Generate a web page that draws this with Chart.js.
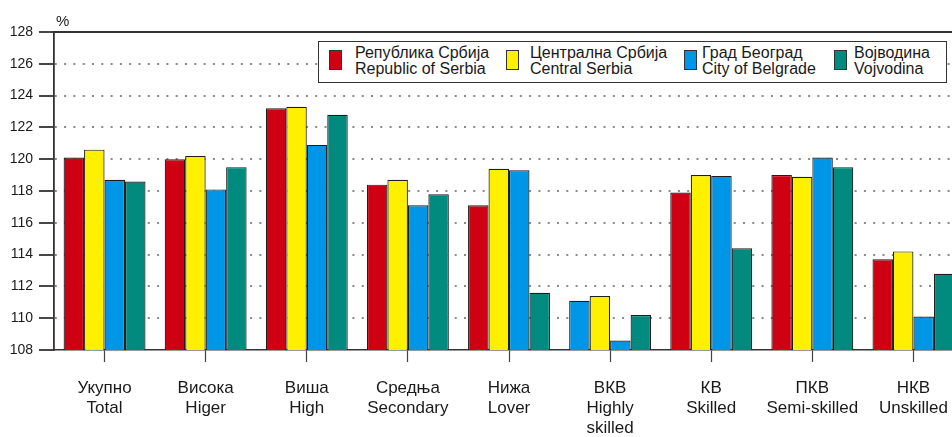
<!DOCTYPE html>
<html>
<head>
<meta charset="utf-8">
<script src="https://cdn.jsdelivr.net/npm/chart.js@4"></script>
<style>
    body { margin: 0; background: #fff; }
    #wrap { position: relative; width: 952px; height: 437px; overflow: hidden; font-family: "Liberation Sans", Arial, sans-serif; color: #1a1a1a; }
    #chart { position: absolute; left: 0; top: 0; }
    #unit { position: absolute; left: 56px; top: 12px; font-size: 15px; }
    #legend { position: absolute; left: 318px; top: 41px; width: 627px; height: 40px; border: 1.5px solid #333; background: #fff; }
    .item { position: absolute; top: 0; font-size: 16px; line-height: 15.5px; padding-top: 3px; }
    .sw { position: absolute; top: 8px; width: 11px; height: 18px; border: 1px solid #333; }
</style>
</head>
<body>
<div id="wrap">
    <canvas id="chart" width="964" height="437"></canvas>
    <div id="unit">%</div>
    <div id="legend"></div>
</div>
<script>
// Категорије / categories
const categories = [
    ['Укупно', 'Total'],
    ['Висока', 'Higer'],
    ['Виша', 'High'],
    ['Средња', 'Secondary'],
    ['Нижа', 'Lover'],
    ['ВКВ', 'Highly', 'skilled'],
    ['КВ', 'Skilled'],
    ['ПКВ', 'Semi-skilled'],
    ['НКВ', 'Unskilled']
];

const serbia     = [120.1, 120.0, 123.2, 118.4, 117.1, 111.1, 117.9, 119.0, 113.7];
const central    = [120.6, 120.2, 123.3, 118.7, 119.4, 111.4, 119.0, 118.9, 114.2];
const belgrade   = [118.7, 118.1, 120.9, 117.1, 119.3, 108.6, 118.95, 120.1, 110.1];
const vojvodina  = [118.6, 119.5, 122.8, 117.8, 111.6, 110.2, 114.4, 119.5, 112.8];

const seriesNames = [
    ['Република Србија', 'Republic of Serbia'],
    ['Централна Србија', 'Central Serbia'],
    ['Град Београд', 'City of Belgrade'],
    ['Војводина', 'Vojvodina']
];

const yTicks = [108, 110, 112, 114, 116, 118, 120, 122, 124, 126, 128];

const RED = '#cf0014';
const YELLOW = '#fff000';
const BLUE = '#0096e8';
const TEAL = '#008b7e';
const colors = [RED, YELLOW, BLUE, TEAL];

// in the original the first bar of "ВКВ" is drawn blue
const serbiaColors = serbia.map((v, i) => i === 5 ? BLUE : RED);

function makeDataset(label, data, color) {
    return {
        label: label,
        data: data,
        backgroundColor: color,
        borderColor: '#1e1e1e',
        borderWidth: 1.2,
        borderSkipped: 'bottom',
        categoryPercentage: 0.81,
        barPercentage: 1.0
    };
}

const chart = new Chart(document.getElementById('chart'), {
    type: 'bar',
    data: {
        labels: categories,
        datasets: [
            makeDataset(seriesNames[0].join(' / '), serbia, serbiaColors),
            makeDataset(seriesNames[1].join(' / '), central, YELLOW),
            makeDataset(seriesNames[2].join(' / '), belgrade, BLUE),
            makeDataset(seriesNames[3].join(' / '), vojvodina, TEAL)
        ]
    },
    options: {
        responsive: false,
        animation: false,
        layout: { padding: { top: 32, right: 0, left: 0, bottom: 0 } },
        plugins: {
            legend: { display: false },
            tooltip: { enabled: false }
        },
        scales: {
            x: {
                position: 'bottom',
                afterFit: s => { s.height = 87; },
                grid: {
                    offset: false,
                    drawOnChartArea: false,
                    tickLength: 12,
                    tickColor: '#444',
                    tickWidth: 1.2
                },
                border: { color: '#333', width: 1.5 },
                ticks: {
                    color: '#1a1a1a',
                    padding: 16,
                    maxRotation: 0,
                    autoSkip: false,
                    font: { family: '"Liberation Sans", Arial, sans-serif', size: 17, lineHeight: 1.18 }
                }
            },
            x2: {
                position: 'top',
                afterFit: s => { s.height = 0; },
                grid: { display: false },
                ticks: { display: false },
                border: { color: '#333', width: 2 }
            },
            y: {
                min: 108,
                max: 128,
                afterFit: s => { s.width = 54; },
                afterBuildTicks: s => { s.ticks = yTicks.map(v => ({ value: v })); },
                grid: {
                    color: ctx => (ctx.tick && (ctx.tick.value === 108 || ctx.tick.value === 128)) ? 'rgba(0,0,0,0)' : '#8a8a8a',
                    lineWidth: 2,
                    tickColor: '#333',
                    tickWidth: 1.8,
                    tickLength: 15
                },
                border: { color: '#333', width: 1.8, dash: [2, 7.3] },
                ticks: {
                    color: '#1a1a1a',
                    padding: 6,
                    font: { family: '"Liberation Sans", Arial, sans-serif', size: 14 }
                }
            }
        }
    }
});

// legend box
const legendPos = [
    { sw: 10, tx: 36 },
    { sw: 187, tx: 211 },
    { sw: 365, tx: 383 },
    { sw: 515, tx: 535 }
];
const legendEl = document.getElementById('legend');
seriesNames.forEach((names, i) => {
    const sw = document.createElement('div');
    sw.className = 'sw';
    sw.style.left = legendPos[i].sw + 'px';
    sw.style.background = colors[i];
    legendEl.appendChild(sw);

    const item = document.createElement('div');
    item.className = 'item';
    item.style.left = legendPos[i].tx + 'px';
    item.innerHTML = names[0] + '<br>' + names[1];
    legendEl.appendChild(item);
});
</script>
</body>
</html>
